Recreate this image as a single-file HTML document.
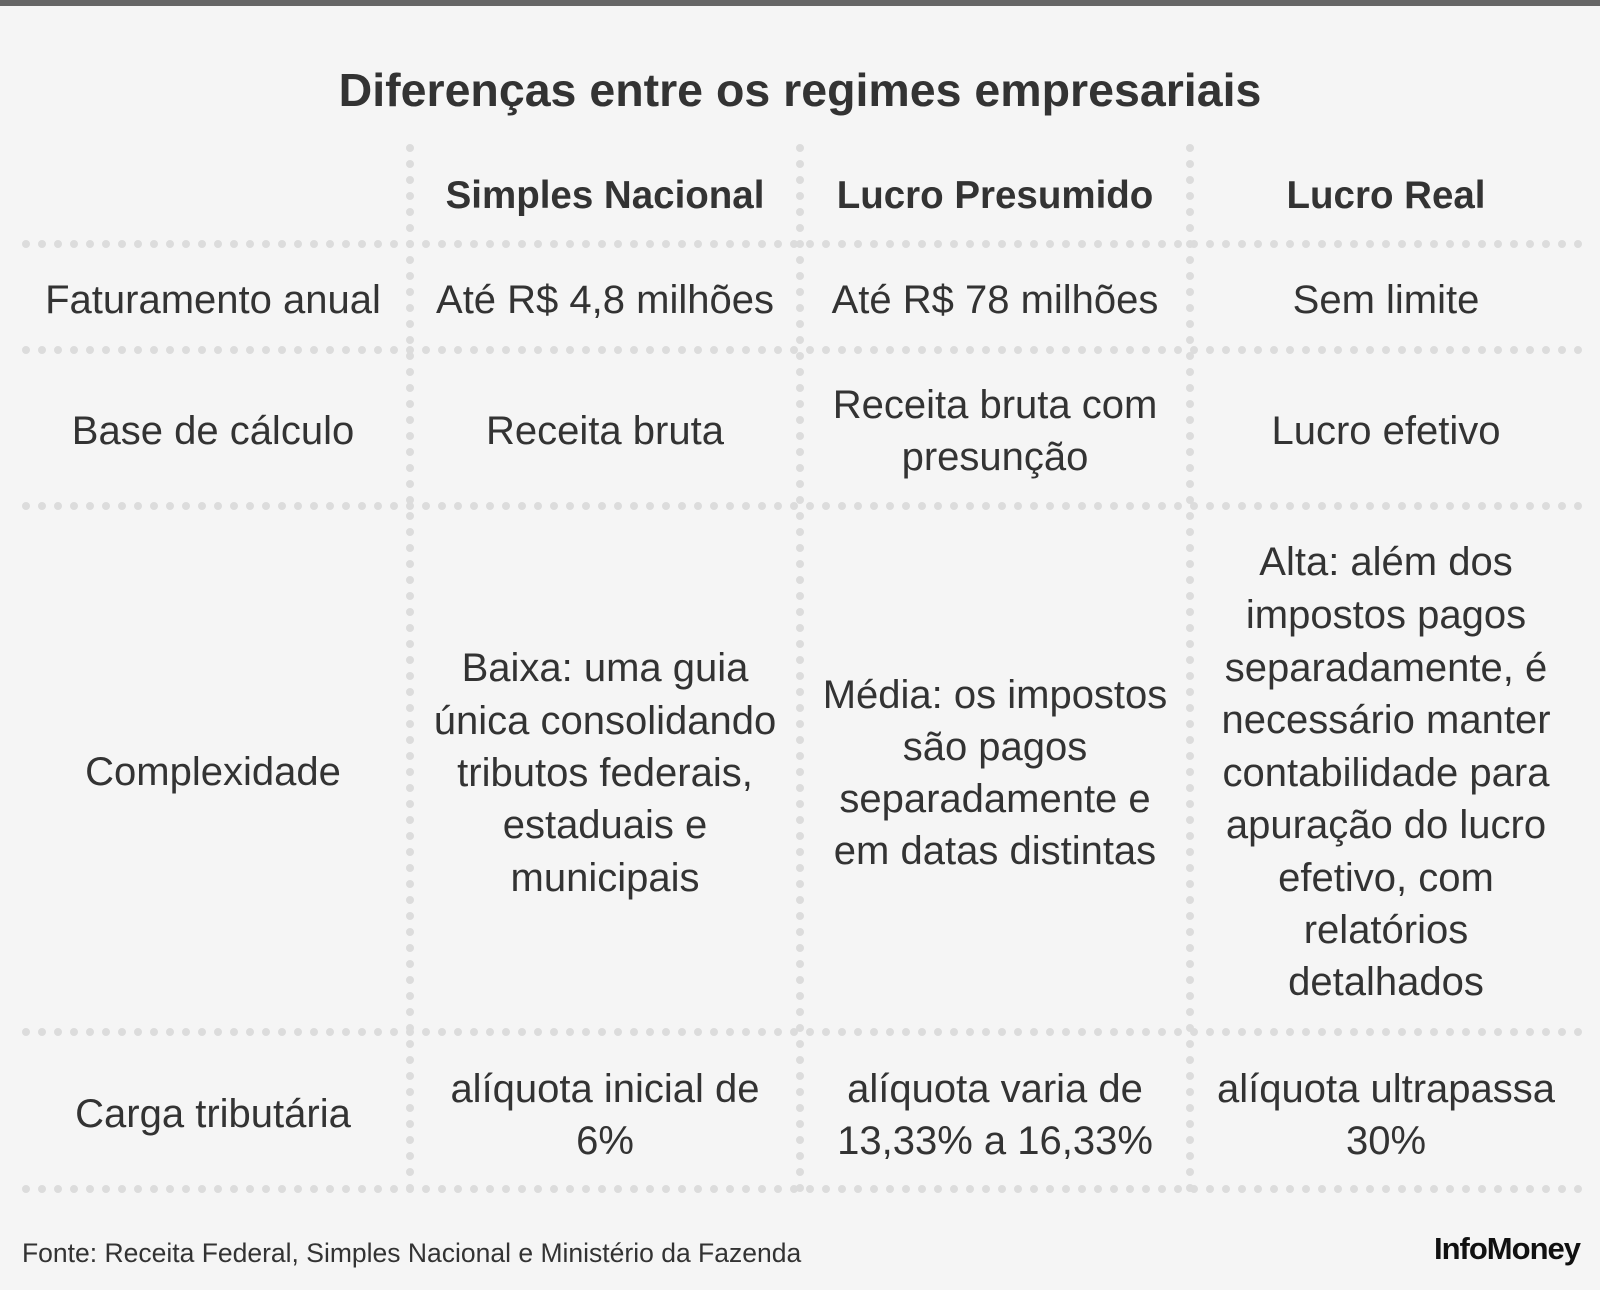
<!DOCTYPE html>
<html><head><meta charset="utf-8"><style>
html,body{margin:0;padding:0;background:#f5f5f5;}
svg{display:block}
text{font-family:"Liberation Sans",sans-serif;fill:#333;}
</style></head><body>
<svg width="1600" height="1290" viewBox="0 0 1600 1290" xmlns="http://www.w3.org/2000/svg">
<rect x="0" y="0" width="1600" height="1290" fill="#f5f5f5"/>
<rect x="0" y="0" width="1600" height="6" fill="#666"/>
<g stroke="#dcdcdc" stroke-width="8" stroke-linecap="round" stroke-dasharray="0 16" fill="none">
<line x1="26" y1="244" x2="1580" y2="244"/>
<line x1="26" y1="350" x2="1580" y2="350"/>
<line x1="26" y1="506" x2="1580" y2="506"/>
<line x1="26" y1="1032" x2="1580" y2="1032"/>
<line x1="26" y1="1189" x2="1580" y2="1189"/>
<line x1="410" y1="148" x2="410" y2="1190"/>
<line x1="800" y1="148" x2="800" y2="1190"/>
<line x1="1190" y1="148" x2="1190" y2="1190"/>
</g>
<text x="800" y="106" font-size="46.5" font-weight="bold" text-anchor="middle">Diferenças entre os regimes empresariais</text>
<g font-size="38.5" font-weight="bold" text-anchor="middle">
<text x="605" y="208">Simples Nacional</text>
<text x="995" y="208">Lucro Presumido</text>
<text x="1386" y="208">Lucro Real</text>
</g>
<g font-size="40" text-anchor="middle">
<text x="213" y="313">Faturamento anual</text>
<text x="605" y="313">Até R$ 4,8 milhões</text>
<text x="995" y="313">Até R$ 78 milhões</text>
<text x="1386" y="313">Sem limite</text>

<text x="213" y="444">Base de cálculo</text>
<text x="605" y="444">Receita bruta</text>
<text x="995" y="418">Receita bruta com</text>
<text x="995" y="470">presunção</text>
<text x="1386" y="444">Lucro efetivo</text>

<text x="213" y="785">Complexidade</text>
<text x="605" y="681">Baixa: uma guia</text>
<text x="605" y="734">única consolidando</text>
<text x="605" y="786">tributos federais,</text>
<text x="605" y="838">estaduais e</text>
<text x="605" y="891">municipais</text>
<text x="995" y="708">Média: os impostos</text>
<text x="995" y="760">são pagos</text>
<text x="995" y="812">separadamente e</text>
<text x="995" y="864">em datas distintas</text>
<text x="1386" y="575">Alta: além dos</text>
<text x="1386" y="628">impostos pagos</text>
<text x="1386" y="681">separadamente, é</text>
<text x="1386" y="733">necessário manter</text>
<text x="1386" y="786">contabilidade para</text>
<text x="1386" y="838">apuração do lucro</text>
<text x="1386" y="891">efetivo, com</text>
<text x="1386" y="943">relatórios</text>
<text x="1386" y="995">detalhados</text>

<text x="213" y="1127">Carga tributária</text>
<text x="605" y="1102">alíquota inicial de</text>
<text x="605" y="1154">6%</text>
<text x="995" y="1102">alíquota varia de</text>
<text x="995" y="1154">13,33% a 16,33%</text>
<text x="1386" y="1102">alíquota ultrapassa</text>
<text x="1386" y="1154">30%</text>
</g>
<text x="22" y="1262" font-size="26.5" fill="#444">Fonte: Receita Federal, Simples Nacional e Ministério da Fazenda</text>
<text x="1580" y="1259" font-size="31" font-weight="bold" text-anchor="end" style="fill:#111;letter-spacing:-1px">InfoMoney</text>
</svg>
</body></html>
